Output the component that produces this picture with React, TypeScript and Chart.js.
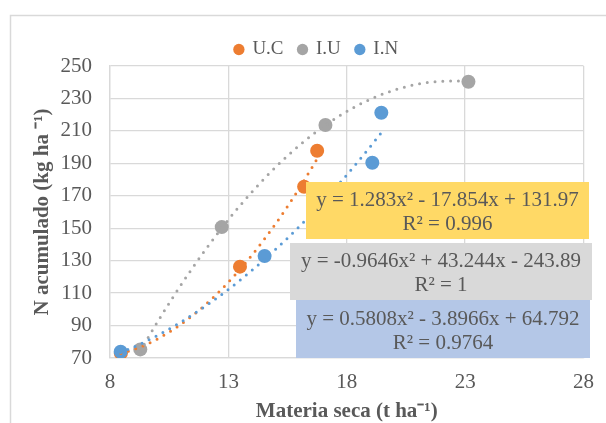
import React, { useEffect, useRef } from "react";
import { Chart, registerables } from "chart.js";

Chart.register(...registerables);

// ---- data ----
const seriesNames = ["U.C", "I.U", "I.N"];
const ucX = [8.46, 13.49, 16.2, 16.75];
const ucY = [73.0, 126.3, 175.6, 197.8];
const iuX = [9.28, 12.72, 17.1, 23.14];
const iuY = [75.3, 150.7, 213.6, 240.3];
const inX = [8.45, 14.53, 19.08, 19.46];
const inY = [73.9, 132.9, 190.4, 221.2];
// quadratic trendlines shown on the chart: y = a·x² + b·x + c
const ucFit = [1.283, -17.854, 131.97];
const iuFit = [-0.9646, 43.244, -243.89];
const inFit = [0.5808, -3.8966, 64.792];
const ucLabel = ["y = 1.283x² - 17.854x + 131.97", "R² = 0.996"];
const iuLabel = ["y = -0.9646x² + 43.244x - 243.89", "R² = 1"];
const inLabel = ["y = 0.5808x² - 3.8966x + 64.792", "R² = 0.9764"];
const xTicks = [8, 13, 18, 23, 28];
const yTicks = [70, 90, 110, 130, 150, 170, 190, 210, 230, 250];
const xTitle = "Materia seca (t ha⁻¹)";
const yTitle = "N acumulado (kg ha ⁻¹)";

const colors = ["#ED7D31", "#A5A5A5", "#5B9BD5"];
const boxColors = ["#FFD966", "#D9D9D9", "#B4C7E7"];
const textColor = "#595959";
const gridColor = "#D9D9D9";
const serif = "'Liberation Serif', 'Times New Roman', serif";

function pts(xs: number[], ys: number[]) {
  return xs.map((x, i) => ({ x, y: ys[i] }));
}

function trend(xs: number[], fit: number[]) {
  const lo = Math.min(...xs);
  const hi = Math.max(...xs);
  const n = 80;
  const out: { x: number; y: number }[] = [];
  for (let i = 0; i <= n; i++) {
    const x = lo + ((hi - lo) * i) / n;
    out.push({ x, y: fit[0] * x * x + fit[1] * x + fit[2] });
  }
  return out;
}

const framePlugin = {
  id: "frame",
  beforeDraw(chart: any) {
    const { ctx } = chart;
    ctx.save();
    ctx.strokeStyle = gridColor;
    ctx.lineWidth = 1.5;
    ctx.beginPath();
    ctx.moveTo(10.5, 423);
    ctx.lineTo(10.5, 15.5);
    ctx.lineTo(606, 15.5);
    ctx.stroke();
    ctx.restore();
  },
};

const boxes = [
  { label: ucLabel, fill: boxColors[0], l: 306, t: 182, r: 589, b: 239 },
  { label: iuLabel, fill: boxColors[1], l: 290, t: 243, r: 592, b: 300 },
  { label: inLabel, fill: boxColors[2], l: 296, t: 300, r: 590, b: 358 },
];

const labelPlugin = {
  id: "eqLabels",
  afterDatasetsDraw(chart: any) {
    const { ctx } = chart;
    ctx.save();
    for (const bx of boxes) {
      ctx.fillStyle = bx.fill;
      ctx.fillRect(bx.l, bx.t, bx.r - bx.l, bx.b - bx.t);
      ctx.fillStyle = textColor;
      ctx.font = `21px ${serif}`;
      ctx.textAlign = "center";
      ctx.textBaseline = "middle";
      const cx = (bx.l + bx.r) / 2;
      const cy = (bx.t + bx.b) / 2;
      ctx.fillText(bx.label[0], cx, cy - 10);
      ctx.fillText(bx.label[1], cx, cy + 14);
    }
    ctx.restore();
  },
};

export default function App() {
  const ref = useRef<HTMLCanvasElement | null>(null);

  useEffect(() => {
    if (!ref.current) return;
    const xsList = [ucX, iuX, inX];
    const ysList = [ucY, iuY, inY];
    const fits = [ucFit, iuFit, inFit];
    const scatterSets = seriesNames.map((name, i) => ({
      label: name,
      data: pts(xsList[i], ysList[i]),
      backgroundColor: colors[i],
      borderColor: colors[i],
      pointRadius: 7,
      pointBorderWidth: 0,
      pointStyle: "circle",
      showLine: false,
      order: 6 - i,
    }));
    const trendSets = seriesNames.map((name, i) => ({
      label: name + " trend",
      data: trend(xsList[i], fits[i]),
      borderColor: colors[i],
      backgroundColor: colors[i],
      borderWidth: 3,
      borderDash: [0, 7.8],
      borderCapStyle: "round",
      pointRadius: 0,
      showLine: true,
      tension: 0,
      order: 3 - i,
    }));

    const chart = new Chart(ref.current, {
      type: "scatter",
      data: { datasets: [...scatterSets, ...trendSets] as any },
      plugins: [framePlugin, labelPlugin],
      options: {
        responsive: false,
        animation: false,
        layout: { padding: { left: 43, right: 16, top: 25, bottom: 0 } },
        plugins: {
          tooltip: { enabled: false },
          legend: {
            position: "top",
            maxHeight: 41,
            labels: {
              filter: (item: any) => item.datasetIndex < 3,
              sort: (a: any, b: any) => a.datasetIndex - b.datasetIndex,
              usePointStyle: true,
              pointStyle: "circle",
              boxWidth: 8,
              boxHeight: 8,
              padding: 15,
              color: textColor,
              font: { family: serif, size: 19 },
            },
          },
        },
        scales: {
          x: {
            type: "linear",
            min: 8,
            max: 28,
            afterBuildTicks: (s: any) => {
              s.ticks = xTicks.map((v) => ({ value: v }));
            },
            afterFit: (s: any) => {
              s.height = 65;
            },
            grid: { color: gridColor, lineWidth: 1.3, drawTicks: false },
            border: { color: gridColor, width: 1.3 },
            ticks: {
              color: textColor,
              padding: 12,
              font: { family: serif, size: 21 },
            },
            title: {
              display: true,
              text: xTitle,
              color: textColor,
              padding: { top: 0, bottom: 1 },
              font: { family: serif, size: 21, weight: "bold", lineHeight: 1 },
            },
          },
          y: {
            type: "linear",
            min: 70,
            max: 250,
            afterBuildTicks: (s: any) => {
              s.ticks = yTicks.map((v) => ({ value: v }));
            },
            afterFit: (s: any) => {
              s.width = 67;
            },
            grid: { color: gridColor, lineWidth: 1.3, drawTicks: false },
            border: { color: gridColor, width: 1.3 },
            ticks: {
              color: textColor,
              padding: 18,
              font: { family: serif, size: 21 },
            },
            title: {
              display: true,
              text: yTitle,
              color: textColor,
              padding: { top: -10.5, bottom: 0 },
              font: { family: serif, size: 21, weight: "bold", lineHeight: 1 },
            },
          },
        },
      } as any,
    });
    return () => chart.destroy();
  }, []);

  return (
    <div style={{ position: "absolute", left: 0, top: 0, width: 606, height: 423, background: "#fff" }}>
      <canvas ref={ref} width={606} height={423} style={{ display: "block" }} />
    </div>
  );
}
